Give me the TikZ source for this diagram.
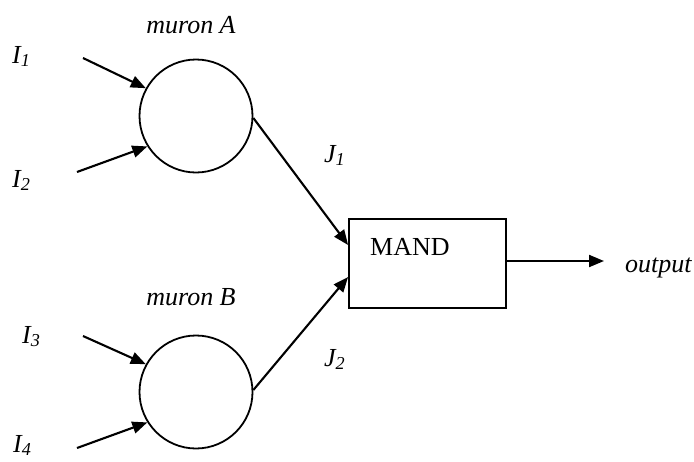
\documentclass[tikz,border=0pt]{standalone}
\usepackage{fontspec}
\setmainfont{Liberation Serif}
\usetikzlibrary{arrows.meta}
\begin{document}
\begin{tikzpicture}[x=1pt,y=-1pt,
  every node/.style={font=\fontsize{26}{31}\selectfont},
  lbl/.style={inner sep=0pt,font=\fontsize{26}{31}\selectfont\itshape},
  neuron/.style={circle,draw,line width=1.8pt,minimum size=113pt,inner sep=0pt},
  gate/.style={rectangle,draw,line width=1.8pt,minimum width=157pt,minimum height=89pt,inner sep=0pt},
  conn/.style={line width=2.1pt,-{Triangle[length=15pt,width=12pt]}}]
\useasboundingbox (0,0) rectangle (694,461);
% neurons and gate
\node[neuron] (A) at (196,116) {};
\node[neuron] (B) at (196,392) {};
\node[gate] (M) at (427.5,263.5) {};
\node[inner sep=0pt,anchor=base west] (mand) at (370,255) {MAND};
% labels
\node[lbl,anchor=base] (la) at (191,33) {muron A};
\node[lbl,anchor=base] (lb) at (191,305) {muron B};
\node[lbl,anchor=base west] (i1) at (12,63) {I\textsubscript{1}};
\node[lbl,anchor=base west] (i2) at (12,187) {I\textsubscript{2}};
\node[lbl,anchor=base west] (i3) at (22,343) {I\textsubscript{3}};
\node[lbl,anchor=base west] (i4) at (13,452) {I\textsubscript{4}};
\node[lbl,anchor=base west] (j1) at (324,162) {J\textsubscript{1}};
\node[lbl,anchor=base west] (j2) at (324,366) {J\textsubscript{2}};
\node[lbl,anchor=base west] (out) at (625,272) {output};
% free ends
\coordinate (s1) at (83,58);
\coordinate (s2) at (77,172);
\coordinate (s3) at (83,336);
\coordinate (s4) at (77,448);
\coordinate (oe) at (604,261);
% connectors
\draw[conn] (s1) -- (A.151);
\draw[conn] (s2) -- (A.212);
\draw[conn] (s3) -- (B.151);
\draw[conn] (s4) -- (B.212);
\draw[conn] (A.358) -- ([yshift=18.5pt]M.west);
\draw[conn] (B.2) -- ([yshift=-13.5pt]M.west);
\draw[conn] ([yshift=2.5pt]M.east) -- (oe);
\end{tikzpicture}
\end{document}
